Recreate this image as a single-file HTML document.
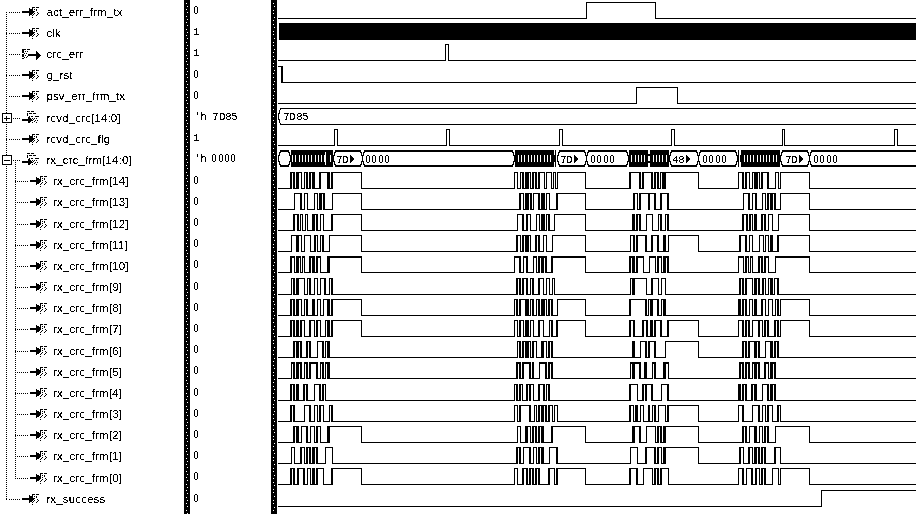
<!DOCTYPE html>
<html><head><meta charset="utf-8"><title>Waveform</title>
<style>
html,body{margin:0;padding:0;background:#fff;}
body{width:916px;height:514px;overflow:hidden;}
svg{display:block;}
.s{font-family:"Liberation Sans",sans-serif;font-size:11.5px;letter-spacing:0.15px;}
.m{font-family:"Liberation Mono",monospace;font-size:10px;}
</style></head><body>
<svg width="916" height="514" viewBox="0 0 916 514" shape-rendering="crispEdges">
<rect width="916" height="514" fill="#fff"/>
<path fill="#000" d="M6 12h1v1h-1zM6 14h1v1h-1zM6 16h1v1h-1zM6 18h1v1h-1zM6 20h1v1h-1zM6 22h1v1h-1zM6 24h1v1h-1zM6 26h1v1h-1zM6 28h1v1h-1zM6 30h1v1h-1zM6 32h1v1h-1zM6 34h1v1h-1zM6 36h1v1h-1zM6 38h1v1h-1zM6 40h1v1h-1zM6 42h1v1h-1zM6 44h1v1h-1zM6 46h1v1h-1zM6 48h1v1h-1zM6 50h1v1h-1zM6 52h1v1h-1zM6 54h1v1h-1zM6 56h1v1h-1zM6 58h1v1h-1zM6 60h1v1h-1zM6 62h1v1h-1zM6 64h1v1h-1zM6 66h1v1h-1zM6 68h1v1h-1zM6 70h1v1h-1zM6 72h1v1h-1zM6 74h1v1h-1zM6 76h1v1h-1zM6 78h1v1h-1zM6 80h1v1h-1zM6 82h1v1h-1zM6 84h1v1h-1zM6 86h1v1h-1zM6 88h1v1h-1zM6 90h1v1h-1zM6 92h1v1h-1zM6 94h1v1h-1zM6 96h1v1h-1zM6 98h1v1h-1zM6 100h1v1h-1zM6 102h1v1h-1zM6 104h1v1h-1zM6 106h1v1h-1zM6 108h1v1h-1zM6 110h1v1h-1zM6 112h1v1h-1zM6 114h1v1h-1zM6 116h1v1h-1zM6 118h1v1h-1zM6 120h1v1h-1zM6 122h1v1h-1zM6 124h1v1h-1zM6 126h1v1h-1zM6 128h1v1h-1zM6 130h1v1h-1zM6 132h1v1h-1zM6 134h1v1h-1zM6 136h1v1h-1zM6 138h1v1h-1zM6 140h1v1h-1zM6 142h1v1h-1zM6 144h1v1h-1zM6 146h1v1h-1zM6 148h1v1h-1zM6 150h1v1h-1zM6 152h1v1h-1zM6 154h1v1h-1zM6 156h1v1h-1zM6 158h1v1h-1zM6 160h1v1h-1zM6 162h1v1h-1zM6 164h1v1h-1zM6 166h1v1h-1zM6 168h1v1h-1zM6 170h1v1h-1zM6 172h1v1h-1zM6 174h1v1h-1zM6 176h1v1h-1zM6 178h1v1h-1zM6 180h1v1h-1zM6 182h1v1h-1zM6 184h1v1h-1zM6 186h1v1h-1zM6 188h1v1h-1zM6 190h1v1h-1zM6 192h1v1h-1zM6 194h1v1h-1zM6 196h1v1h-1zM6 198h1v1h-1zM6 200h1v1h-1zM6 202h1v1h-1zM6 204h1v1h-1zM6 206h1v1h-1zM6 208h1v1h-1zM6 210h1v1h-1zM6 212h1v1h-1zM6 214h1v1h-1zM6 216h1v1h-1zM6 218h1v1h-1zM6 220h1v1h-1zM6 222h1v1h-1zM6 224h1v1h-1zM6 226h1v1h-1zM6 228h1v1h-1zM6 230h1v1h-1zM6 232h1v1h-1zM6 234h1v1h-1zM6 236h1v1h-1zM6 238h1v1h-1zM6 240h1v1h-1zM6 242h1v1h-1zM6 244h1v1h-1zM6 246h1v1h-1zM6 248h1v1h-1zM6 250h1v1h-1zM6 252h1v1h-1zM6 254h1v1h-1zM6 256h1v1h-1zM6 258h1v1h-1zM6 260h1v1h-1zM6 262h1v1h-1zM6 264h1v1h-1zM6 266h1v1h-1zM6 268h1v1h-1zM6 270h1v1h-1zM6 272h1v1h-1zM6 274h1v1h-1zM6 276h1v1h-1zM6 278h1v1h-1zM6 280h1v1h-1zM6 282h1v1h-1zM6 284h1v1h-1zM6 286h1v1h-1zM6 288h1v1h-1zM6 290h1v1h-1zM6 292h1v1h-1zM6 294h1v1h-1zM6 296h1v1h-1zM6 298h1v1h-1zM6 300h1v1h-1zM6 302h1v1h-1zM6 304h1v1h-1zM6 306h1v1h-1zM6 308h1v1h-1zM6 310h1v1h-1zM6 312h1v1h-1zM6 314h1v1h-1zM6 316h1v1h-1zM6 318h1v1h-1zM6 320h1v1h-1zM6 322h1v1h-1zM6 324h1v1h-1zM6 326h1v1h-1zM6 328h1v1h-1zM6 330h1v1h-1zM6 332h1v1h-1zM6 334h1v1h-1zM6 336h1v1h-1zM6 338h1v1h-1zM6 340h1v1h-1zM6 342h1v1h-1zM6 344h1v1h-1zM6 346h1v1h-1zM6 348h1v1h-1zM6 350h1v1h-1zM6 352h1v1h-1zM6 354h1v1h-1zM6 356h1v1h-1zM6 358h1v1h-1zM6 360h1v1h-1zM6 362h1v1h-1zM6 364h1v1h-1zM6 366h1v1h-1zM6 368h1v1h-1zM6 370h1v1h-1zM6 372h1v1h-1zM6 374h1v1h-1zM6 376h1v1h-1zM6 378h1v1h-1zM6 380h1v1h-1zM6 382h1v1h-1zM6 384h1v1h-1zM6 386h1v1h-1zM6 388h1v1h-1zM6 390h1v1h-1zM6 392h1v1h-1zM6 394h1v1h-1zM6 396h1v1h-1zM6 398h1v1h-1zM6 400h1v1h-1zM6 402h1v1h-1zM6 404h1v1h-1zM6 406h1v1h-1zM6 408h1v1h-1zM6 410h1v1h-1zM6 412h1v1h-1zM6 414h1v1h-1zM6 416h1v1h-1zM6 418h1v1h-1zM6 420h1v1h-1zM6 422h1v1h-1zM6 424h1v1h-1zM6 426h1v1h-1zM6 428h1v1h-1zM6 430h1v1h-1zM6 432h1v1h-1zM6 434h1v1h-1zM6 436h1v1h-1zM6 438h1v1h-1zM6 440h1v1h-1zM6 442h1v1h-1zM6 444h1v1h-1zM6 446h1v1h-1zM6 448h1v1h-1zM6 450h1v1h-1zM6 452h1v1h-1zM6 454h1v1h-1zM6 456h1v1h-1zM6 458h1v1h-1zM6 460h1v1h-1zM6 462h1v1h-1zM6 464h1v1h-1zM6 466h1v1h-1zM6 468h1v1h-1zM6 470h1v1h-1zM6 472h1v1h-1zM6 474h1v1h-1zM6 476h1v1h-1zM6 478h1v1h-1zM6 480h1v1h-1zM6 482h1v1h-1zM6 484h1v1h-1zM6 486h1v1h-1zM6 488h1v1h-1zM6 490h1v1h-1zM6 492h1v1h-1zM6 494h1v1h-1zM6 496h1v1h-1zM6 498h1v1h-1zM6 12h1v1h-1zM9 12h1v1h-1zM11 12h1v1h-1zM13 12h1v1h-1zM15 12h1v1h-1zM17 12h1v1h-1zM19 12h1v1h-1zM6 33h1v1h-1zM9 33h1v1h-1zM11 33h1v1h-1zM13 33h1v1h-1zM15 33h1v1h-1zM17 33h1v1h-1zM19 33h1v1h-1zM6 54h1v1h-1zM9 54h1v1h-1zM11 54h1v1h-1zM13 54h1v1h-1zM15 54h1v1h-1zM17 54h1v1h-1zM19 54h1v1h-1zM6 75h1v1h-1zM9 75h1v1h-1zM11 75h1v1h-1zM13 75h1v1h-1zM15 75h1v1h-1zM17 75h1v1h-1zM19 75h1v1h-1zM6 96h1v1h-1zM9 96h1v1h-1zM11 96h1v1h-1zM13 96h1v1h-1zM15 96h1v1h-1zM17 96h1v1h-1zM19 96h1v1h-1zM13 118h1v1h-1zM15 118h1v1h-1zM17 118h1v1h-1zM19 118h1v1h-1zM6 139h1v1h-1zM9 139h1v1h-1zM11 139h1v1h-1zM13 139h1v1h-1zM15 139h1v1h-1zM17 139h1v1h-1zM19 139h1v1h-1zM13 160h1v1h-1zM15 160h1v1h-1zM17 160h1v1h-1zM19 160h1v1h-1zM6 499h1v1h-1zM9 499h1v1h-1zM11 499h1v1h-1zM13 499h1v1h-1zM15 499h1v1h-1zM17 499h1v1h-1zM19 499h1v1h-1zM15 162h1v1h-1zM15 164h1v1h-1zM15 166h1v1h-1zM15 168h1v1h-1zM15 170h1v1h-1zM15 172h1v1h-1zM15 174h1v1h-1zM15 176h1v1h-1zM15 178h1v1h-1zM15 180h1v1h-1zM15 182h1v1h-1zM15 184h1v1h-1zM15 186h1v1h-1zM15 188h1v1h-1zM15 190h1v1h-1zM15 192h1v1h-1zM15 194h1v1h-1zM15 196h1v1h-1zM15 198h1v1h-1zM15 200h1v1h-1zM15 202h1v1h-1zM15 204h1v1h-1zM15 206h1v1h-1zM15 208h1v1h-1zM15 210h1v1h-1zM15 212h1v1h-1zM15 214h1v1h-1zM15 216h1v1h-1zM15 218h1v1h-1zM15 220h1v1h-1zM15 222h1v1h-1zM15 224h1v1h-1zM15 226h1v1h-1zM15 228h1v1h-1zM15 230h1v1h-1zM15 232h1v1h-1zM15 234h1v1h-1zM15 236h1v1h-1zM15 238h1v1h-1zM15 240h1v1h-1zM15 242h1v1h-1zM15 244h1v1h-1zM15 246h1v1h-1zM15 248h1v1h-1zM15 250h1v1h-1zM15 252h1v1h-1zM15 254h1v1h-1zM15 256h1v1h-1zM15 258h1v1h-1zM15 260h1v1h-1zM15 262h1v1h-1zM15 264h1v1h-1zM15 266h1v1h-1zM15 268h1v1h-1zM15 270h1v1h-1zM15 272h1v1h-1zM15 274h1v1h-1zM15 276h1v1h-1zM15 278h1v1h-1zM15 280h1v1h-1zM15 282h1v1h-1zM15 284h1v1h-1zM15 286h1v1h-1zM15 288h1v1h-1zM15 290h1v1h-1zM15 292h1v1h-1zM15 294h1v1h-1zM15 296h1v1h-1zM15 298h1v1h-1zM15 300h1v1h-1zM15 302h1v1h-1zM15 304h1v1h-1zM15 306h1v1h-1zM15 308h1v1h-1zM15 310h1v1h-1zM15 312h1v1h-1zM15 314h1v1h-1zM15 316h1v1h-1zM15 318h1v1h-1zM15 320h1v1h-1zM15 322h1v1h-1zM15 324h1v1h-1zM15 326h1v1h-1zM15 328h1v1h-1zM15 330h1v1h-1zM15 332h1v1h-1zM15 334h1v1h-1zM15 336h1v1h-1zM15 338h1v1h-1zM15 340h1v1h-1zM15 342h1v1h-1zM15 344h1v1h-1zM15 346h1v1h-1zM15 348h1v1h-1zM15 350h1v1h-1zM15 352h1v1h-1zM15 354h1v1h-1zM15 356h1v1h-1zM15 358h1v1h-1zM15 360h1v1h-1zM15 362h1v1h-1zM15 364h1v1h-1zM15 366h1v1h-1zM15 368h1v1h-1zM15 370h1v1h-1zM15 372h1v1h-1zM15 374h1v1h-1zM15 376h1v1h-1zM15 378h1v1h-1zM15 380h1v1h-1zM15 382h1v1h-1zM15 384h1v1h-1zM15 386h1v1h-1zM15 388h1v1h-1zM15 390h1v1h-1zM15 392h1v1h-1zM15 394h1v1h-1zM15 396h1v1h-1zM15 398h1v1h-1zM15 400h1v1h-1zM15 402h1v1h-1zM15 404h1v1h-1zM15 406h1v1h-1zM15 408h1v1h-1zM15 410h1v1h-1zM15 412h1v1h-1zM15 414h1v1h-1zM15 416h1v1h-1zM15 418h1v1h-1zM15 420h1v1h-1zM15 422h1v1h-1zM15 424h1v1h-1zM15 426h1v1h-1zM15 428h1v1h-1zM15 430h1v1h-1zM15 432h1v1h-1zM15 434h1v1h-1zM15 436h1v1h-1zM15 438h1v1h-1zM15 440h1v1h-1zM15 442h1v1h-1zM15 444h1v1h-1zM15 446h1v1h-1zM15 448h1v1h-1zM15 450h1v1h-1zM15 452h1v1h-1zM15 454h1v1h-1zM15 456h1v1h-1zM15 458h1v1h-1zM15 460h1v1h-1zM15 462h1v1h-1zM15 464h1v1h-1zM15 466h1v1h-1zM15 468h1v1h-1zM15 470h1v1h-1zM15 472h1v1h-1zM15 474h1v1h-1zM15 476h1v1h-1zM15 478h1v1h-1zM15 181h1v1h-1zM17 181h1v1h-1zM19 181h1v1h-1zM21 181h1v1h-1zM23 181h1v1h-1zM25 181h1v1h-1zM27 181h1v1h-1zM15 202h1v1h-1zM17 202h1v1h-1zM19 202h1v1h-1zM21 202h1v1h-1zM23 202h1v1h-1zM25 202h1v1h-1zM27 202h1v1h-1zM15 224h1v1h-1zM17 224h1v1h-1zM19 224h1v1h-1zM21 224h1v1h-1zM23 224h1v1h-1zM25 224h1v1h-1zM27 224h1v1h-1zM15 245h1v1h-1zM17 245h1v1h-1zM19 245h1v1h-1zM21 245h1v1h-1zM23 245h1v1h-1zM25 245h1v1h-1zM27 245h1v1h-1zM15 266h1v1h-1zM17 266h1v1h-1zM19 266h1v1h-1zM21 266h1v1h-1zM23 266h1v1h-1zM25 266h1v1h-1zM27 266h1v1h-1zM15 287h1v1h-1zM17 287h1v1h-1zM19 287h1v1h-1zM21 287h1v1h-1zM23 287h1v1h-1zM25 287h1v1h-1zM27 287h1v1h-1zM15 308h1v1h-1zM17 308h1v1h-1zM19 308h1v1h-1zM21 308h1v1h-1zM23 308h1v1h-1zM25 308h1v1h-1zM27 308h1v1h-1zM15 329h1v1h-1zM17 329h1v1h-1zM19 329h1v1h-1zM21 329h1v1h-1zM23 329h1v1h-1zM25 329h1v1h-1zM27 329h1v1h-1zM15 351h1v1h-1zM17 351h1v1h-1zM19 351h1v1h-1zM21 351h1v1h-1zM23 351h1v1h-1zM25 351h1v1h-1zM27 351h1v1h-1zM15 372h1v1h-1zM17 372h1v1h-1zM19 372h1v1h-1zM21 372h1v1h-1zM23 372h1v1h-1zM25 372h1v1h-1zM27 372h1v1h-1zM15 393h1v1h-1zM17 393h1v1h-1zM19 393h1v1h-1zM21 393h1v1h-1zM23 393h1v1h-1zM25 393h1v1h-1zM27 393h1v1h-1zM15 414h1v1h-1zM17 414h1v1h-1zM19 414h1v1h-1zM21 414h1v1h-1zM23 414h1v1h-1zM25 414h1v1h-1zM27 414h1v1h-1zM15 435h1v1h-1zM17 435h1v1h-1zM19 435h1v1h-1zM21 435h1v1h-1zM23 435h1v1h-1zM25 435h1v1h-1zM27 435h1v1h-1zM15 456h1v1h-1zM17 456h1v1h-1zM19 456h1v1h-1zM21 456h1v1h-1zM23 456h1v1h-1zM25 456h1v1h-1zM27 456h1v1h-1zM15 478h1v1h-1zM17 478h1v1h-1zM19 478h1v1h-1zM21 478h1v1h-1zM23 478h1v1h-1zM25 478h1v1h-1zM27 478h1v1h-1zM184 0h6v514h-6zM271 0h6v514h-6zM278 188h13v1h-13zM290 172h2v17h-2zM291 172h3v1h-3zM293 172h2v17h-2zM294 188h3v1h-3zM296 172h3v17h-3zM298 172h4v1h-4zM301 172h1v17h-1zM301 188h4v1h-4zM304 172h1v17h-1zM304 172h3v1h-3zM306 172h2v17h-2zM307 188h3v1h-3zM309 172h2v17h-2zM310 172h3v1h-3zM312 172h3v17h-3zM314 188h6v1h-6zM319 172h2v17h-2zM320 172h8v1h-8zM327 172h3v17h-3zM329 188h3v1h-3zM331 172h2v17h-2zM332 172h30v1h-30zM361 172h1v17h-1zM361 188h154v1h-154zM514 172h1v17h-1zM514 172h4v1h-4zM517 172h1v17h-1zM517 188h4v1h-4zM520 172h1v17h-1zM520 172h3v1h-3zM522 172h2v17h-2zM523 188h3v1h-3zM525 172h4v17h-4zM528 172h3v1h-3zM530 172h1v17h-1zM530 188h3v1h-3zM532 172h2v17h-2zM533 172h3v1h-3zM535 172h2v17h-2zM536 188h3v1h-3zM538 172h2v17h-2zM539 172h6v1h-6zM544 172h1v17h-1zM544 188h3v1h-3zM546 172h1v17h-1zM546 172h6v1h-6zM551 172h1v17h-1zM551 188h3v1h-3zM553 172h1v17h-1zM553 172h3v1h-3zM555 172h1v17h-1zM555 188h3v1h-3zM557 172h1v17h-1zM557 172h29v1h-29zM585 172h1v17h-1zM585 188h45v1h-45zM629 172h2v17h-2zM630 172h10v1h-10zM639 172h2v17h-2zM640 188h3v1h-3zM642 172h2v17h-2zM643 172h9v1h-9zM651 172h2v17h-2zM652 188h3v1h-3zM654 172h2v17h-2zM655 172h3v1h-3zM657 172h2v17h-2zM658 188h3v1h-3zM660 172h1v17h-1zM660 172h3v1h-3zM662 172h4v17h-4zM665 172h34v1h-34zM698 172h1v17h-1zM698 188h41v1h-41zM738 172h1v17h-1zM738 172h5v1h-5zM742 172h2v17h-2zM743 188h3v1h-3zM745 172h2v17h-2zM746 172h4v1h-4zM749 172h1v17h-1zM749 188h4v1h-4zM752 172h1v17h-1zM752 172h3v1h-3zM754 172h4v17h-4zM757 172h3v1h-3zM759 172h1v17h-1zM759 188h3v1h-3zM761 172h2v17h-2zM762 172h6v1h-6zM767 172h2v17h-2zM768 188h8v1h-8zM775 172h1v17h-1zM775 172h4v1h-4zM778 172h1v17h-1zM778 188h3v1h-3zM780 172h1v17h-1zM780 172h30v1h-30zM809 172h1v17h-1zM809 188h107v1h-107zM278 209h17v1h-17zM294 193h1v17h-1zM294 193h7v1h-7zM300 193h2v17h-2zM301 209h4v1h-4zM304 193h1v17h-1zM304 193h4v1h-4zM307 193h1v17h-1zM307 209h8v1h-8zM314 193h1v17h-1zM314 193h4v1h-4zM317 193h1v17h-1zM317 209h3v1h-3zM319 193h3v17h-3zM321 193h3v1h-3zM323 193h2v17h-2zM324 209h9v1h-9zM332 193h1v17h-1zM332 193h30v1h-30zM361 193h1v17h-1zM361 209h159v1h-159zM519 193h2v17h-2zM520 193h4v1h-4zM523 193h1v17h-1zM523 209h3v1h-3zM525 193h4v17h-4zM528 193h3v1h-3zM530 193h2v17h-2zM531 209h3v1h-3zM533 193h1v17h-1zM533 193h6v1h-6zM538 193h2v17h-2zM539 209h3v1h-3zM541 193h4v17h-4zM544 209h3v1h-3zM546 193h1v17h-1zM546 193h4v1h-4zM549 193h1v17h-1zM549 209h8v1h-8zM556 193h2v17h-2zM557 193h29v1h-29zM585 193h1v17h-1zM585 209h49v1h-49zM633 193h2v17h-2zM634 193h4v1h-4zM637 193h1v17h-1zM637 209h3v1h-3zM639 193h2v17h-2zM640 193h9v1h-9zM648 193h2v17h-2zM649 193h6v1h-6zM654 193h2v17h-2zM655 209h6v1h-6zM660 193h2v17h-2zM661 193h7v1h-7zM667 193h2v17h-2zM668 209h76v1h-76zM743 193h1v17h-1zM743 193h6v1h-6zM748 193h2v17h-2zM749 209h4v1h-4zM752 193h1v17h-1zM752 193h4v1h-4zM755 193h2v17h-2zM756 209h7v1h-7zM762 193h1v17h-1zM762 193h4v1h-4zM765 193h1v17h-1zM765 209h3v1h-3zM767 193h2v17h-2zM768 193h3v1h-3zM770 193h3v17h-3zM772 193h3v1h-3zM774 193h2v17h-2zM775 209h6v1h-6zM780 193h1v17h-1zM780 193h30v1h-30zM809 193h1v17h-1zM809 209h107v1h-107zM278 230h16v1h-16zM293 214h2v17h-2zM294 214h4v1h-4zM297 214h2v17h-2zM298 230h3v1h-3zM300 214h1v17h-1zM300 214h3v1h-3zM302 214h1v17h-1zM302 230h4v1h-4zM305 214h1v17h-1zM305 214h3v1h-3zM307 214h1v17h-1zM307 230h6v1h-6zM312 214h3v17h-3zM314 214h3v1h-3zM316 214h2v17h-2zM317 230h4v1h-4zM320 214h1v17h-1zM320 214h4v1h-4zM323 214h1v17h-1zM323 230h9v1h-9zM331 214h2v17h-2zM332 214h30v1h-30zM361 214h1v17h-1zM361 230h157v1h-157zM517 214h1v17h-1zM517 214h6v1h-6zM522 214h2v17h-2zM523 230h4v1h-4zM526 214h2v17h-2zM527 214h4v1h-4zM530 214h1v17h-1zM530 230h7v1h-7zM536 214h1v17h-1zM536 214h4v1h-4zM539 214h1v17h-1zM539 230h3v1h-3zM541 214h4v17h-4zM544 230h3v1h-3zM546 214h1v17h-1zM546 214h3v1h-3zM548 214h2v17h-2zM549 230h6v1h-6zM554 214h1v17h-1zM554 214h32v1h-32zM585 214h1v17h-1zM585 230h48v1h-48zM632 214h3v17h-3zM634 230h3v1h-3zM636 214h2v17h-2zM637 214h3v1h-3zM639 214h2v17h-2zM640 230h7v1h-7zM646 214h1v17h-1zM646 214h7v1h-7zM652 214h1v17h-1zM652 230h7v1h-7zM658 214h1v17h-1zM658 214h3v1h-3zM660 214h2v17h-2zM661 230h5v1h-5zM665 214h1v17h-1zM665 214h3v1h-3zM667 214h2v17h-2zM668 230h75v1h-75zM742 214h2v17h-2zM743 214h4v1h-4zM746 214h2v17h-2zM747 230h3v1h-3zM749 214h2v17h-2zM750 214h3v1h-3zM752 214h1v17h-1zM752 230h3v1h-3zM754 214h3v17h-3zM756 230h6v1h-6zM761 214h2v17h-2zM762 214h3v1h-3zM764 214h2v17h-2zM765 230h4v1h-4zM768 214h1v17h-1zM768 214h5v1h-5zM772 214h1v17h-1zM772 230h7v1h-7zM778 214h1v17h-1zM778 214h32v1h-32zM809 214h1v17h-1zM809 230h107v1h-107zM278 251h14v1h-14zM291 235h1v17h-1zM291 235h6v1h-6zM296 235h3v17h-3zM298 235h4v1h-4zM301 235h1v17h-1zM301 251h4v1h-4zM304 235h1v17h-1zM304 235h7v1h-7zM310 235h1v17h-1zM310 251h5v1h-5zM314 235h2v17h-2zM315 235h3v1h-3zM317 235h1v17h-1zM317 251h4v1h-4zM320 235h1v17h-1zM320 235h3v1h-3zM322 235h2v17h-2zM323 251h7v1h-7zM329 235h1v17h-1zM329 235h33v1h-33zM361 235h1v17h-1zM361 251h156v1h-156zM516 235h2v17h-2zM517 235h4v1h-4zM520 235h1v17h-1zM520 251h3v1h-3zM522 235h2v17h-2zM523 235h3v1h-3zM525 235h4v17h-4zM528 235h3v1h-3zM530 235h1v17h-1zM530 251h6v1h-6zM535 235h2v17h-2zM536 235h3v1h-3zM538 235h2v17h-2zM539 251h5v1h-5zM543 235h1v17h-1zM543 235h4v1h-4zM546 235h1v17h-1zM546 251h7v1h-7zM552 235h1v17h-1zM552 235h34v1h-34zM585 235h1v17h-1zM585 251h46v1h-46zM630 235h1v17h-1zM630 235h4v1h-4zM633 235h2v17h-2zM634 251h3v1h-3zM636 235h2v17h-2zM637 235h9v1h-9zM645 235h2v17h-2zM646 251h6v1h-6zM651 235h2v17h-2zM652 235h6v1h-6zM657 235h2v17h-2zM658 251h6v1h-6zM663 235h3v17h-3zM665 251h4v1h-4zM668 235h1v17h-1zM668 235h31v1h-31zM698 235h1v17h-1zM698 251h42v1h-42zM739 235h2v17h-2zM740 235h6v1h-6zM745 235h2v17h-2zM746 251h4v1h-4zM749 235h1v17h-1zM749 235h4v1h-4zM752 235h1v17h-1zM752 251h8v1h-8zM759 235h1v17h-1zM759 235h5v1h-5zM763 235h1v17h-1zM763 251h3v1h-3zM765 235h1v17h-1zM765 235h4v1h-4zM768 235h1v17h-1zM768 251h3v1h-3zM770 235h3v17h-3zM772 251h6v1h-6zM777 235h2v17h-2zM778 235h32v1h-32zM809 235h1v17h-1zM809 251h107v1h-107zM278 272h13v1h-13zM290 256h2v17h-2zM291 256h4v2h-4zM294 256h1v17h-1zM294 272h3v1h-3zM296 256h3v17h-3zM298 256h3v2h-3zM300 256h1v17h-1zM300 272h3v1h-3zM302 256h1v17h-1zM302 256h3v2h-3zM304 256h1v17h-1zM304 272h6v1h-6zM309 256h2v17h-2zM310 256h3v2h-3zM312 256h3v17h-3zM314 272h3v1h-3zM316 256h2v17h-2zM317 256h4v2h-4zM320 256h1v17h-1zM320 272h8v1h-8zM327 256h3v17h-3zM329 256h33v2h-33zM361 256h1v17h-1zM361 272h154v1h-154zM514 256h1v17h-1zM514 256h6v2h-6zM519 256h2v17h-2zM520 272h4v1h-4zM523 256h1v17h-1zM523 256h4v2h-4zM526 256h2v17h-2zM527 272h7v1h-7zM533 256h1v17h-1zM533 256h4v2h-4zM536 256h1v17h-1zM536 272h3v1h-3zM538 256h2v17h-2zM539 256h3v2h-3zM541 256h3v17h-3zM543 256h3v2h-3zM545 256h2v17h-2zM546 272h6v1h-6zM551 256h2v17h-2zM552 256h34v2h-34zM585 256h1v17h-1zM585 272h45v1h-45zM629 256h2v17h-2zM630 256h3v2h-3zM632 256h3v17h-3zM634 272h3v1h-3zM636 256h2v17h-2zM637 256h7v2h-7zM643 256h1v17h-1zM643 272h7v1h-7zM649 256h1v17h-1zM649 256h7v2h-7zM655 256h1v17h-1zM655 272h3v1h-3zM657 256h2v17h-2zM658 256h4v2h-4zM661 256h1v17h-1zM661 272h3v1h-3zM663 256h3v17h-3zM665 256h3v2h-3zM667 256h2v17h-2zM668 272h71v1h-71zM738 256h1v17h-1zM738 256h6v2h-6zM743 256h1v17h-1zM743 272h3v1h-3zM745 256h2v17h-2zM746 256h3v2h-3zM748 256h1v17h-1zM748 272h3v1h-3zM750 256h1v17h-1zM750 256h3v2h-3zM752 256h1v17h-1zM752 272h7v1h-7zM758 256h2v17h-2zM759 256h3v2h-3zM761 256h2v17h-2zM762 272h3v1h-3zM764 256h2v17h-2zM765 256h4v2h-4zM768 256h1v17h-1zM768 272h8v1h-8zM775 256h1v17h-1zM775 256h35v2h-35zM809 256h1v17h-1zM809 272h107v1h-107zM278 294h14v1h-14zM291 278h1v17h-1zM291 278h3v1h-3zM293 278h2v17h-2zM294 294h3v1h-3zM296 278h3v17h-3zM298 278h7v1h-7zM304 278h1v17h-1zM304 294h4v1h-4zM307 278h1v17h-1zM307 278h3v1h-3zM309 278h2v17h-2zM310 294h5v1h-5zM314 278h1v17h-1zM314 278h4v1h-4zM317 278h1v17h-1zM317 294h4v1h-4zM320 278h1v17h-1zM320 278h5v1h-5zM324 278h2v17h-2zM325 294h5v1h-5zM329 278h1v17h-1zM329 278h3v1h-3zM331 278h2v17h-2zM332 294h185v1h-185zM516 278h2v17h-2zM517 278h3v1h-3zM519 278h2v17h-2zM520 294h3v1h-3zM522 278h2v17h-2zM523 278h4v1h-4zM526 278h2v17h-2zM527 294h4v1h-4zM530 278h1v17h-1zM530 278h3v1h-3zM532 278h2v17h-2zM533 294h6v1h-6zM538 278h2v17h-2zM539 278h5v1h-5zM543 278h1v17h-1zM543 294h4v1h-4zM546 278h1v17h-1zM546 278h4v1h-4zM549 278h1v17h-1zM549 294h4v1h-4zM552 278h1v17h-1zM552 278h3v1h-3zM554 278h1v17h-1zM554 294h77v1h-77zM630 278h1v17h-1zM630 278h3v1h-3zM632 278h3v17h-3zM634 278h13v1h-13zM646 278h1v17h-1zM646 294h6v1h-6zM651 278h2v17h-2zM652 278h7v1h-7zM658 278h1v17h-1zM658 294h4v1h-4zM661 278h1v17h-1zM661 278h5v1h-5zM665 278h1v17h-1zM665 294h75v1h-75zM739 278h2v17h-2zM740 278h3v1h-3zM742 278h2v17h-2zM743 294h3v1h-3zM745 278h2v17h-2zM746 278h7v1h-7zM752 278h1v17h-1zM752 294h3v1h-3zM754 278h3v17h-3zM756 278h3v1h-3zM758 278h2v17h-2zM759 294h4v1h-4zM762 278h2v17h-2zM763 278h3v1h-3zM765 278h1v17h-1zM765 294h4v1h-4zM768 278h1v17h-1zM768 278h3v1h-3zM770 278h3v17h-3zM772 294h3v1h-3zM774 278h1v17h-1zM774 278h4v1h-4zM777 278h2v17h-2zM778 294h138v1h-138zM278 315h13v1h-13zM290 299h2v17h-2zM291 299h3v1h-3zM293 299h2v17h-2zM294 315h3v1h-3zM296 299h3v17h-3zM298 299h4v1h-4zM301 299h1v17h-1zM301 315h4v1h-4zM304 299h1v17h-1zM304 299h3v1h-3zM306 299h2v17h-2zM307 315h6v1h-6zM312 299h3v17h-3zM314 315h4v1h-4zM317 299h1v17h-1zM317 299h4v1h-4zM320 299h1v17h-1zM320 315h4v1h-4zM323 299h1v17h-1zM323 299h5v1h-5zM327 299h3v17h-3zM329 315h3v1h-3zM331 299h2v17h-2zM332 299h30v1h-30zM361 299h1v17h-1zM361 315h154v1h-154zM514 299h1v17h-1zM514 299h3v1h-3zM516 299h2v17h-2zM517 315h3v1h-3zM519 299h2v17h-2zM520 299h6v1h-6zM525 299h4v17h-4zM528 315h3v1h-3zM530 299h1v17h-1zM530 299h3v1h-3zM532 299h2v17h-2zM533 315h4v1h-4zM536 299h1v17h-1zM536 299h3v1h-3zM538 299h2v17h-2zM539 315h3v1h-3zM541 299h4v17h-4zM544 299h3v1h-3zM546 299h1v17h-1zM546 315h3v1h-3zM548 299h2v17h-2zM549 299h3v1h-3zM551 299h2v17h-2zM552 315h6v1h-6zM557 299h1v17h-1zM557 299h29v1h-29zM585 299h1v17h-1zM585 315h45v1h-45zM629 299h2v17h-2zM630 299h16v1h-16zM645 299h2v17h-2zM646 315h3v1h-3zM648 299h1v17h-1zM648 299h3v1h-3zM650 299h3v17h-3zM652 299h6v1h-6zM657 299h2v17h-2zM658 315h4v1h-4zM661 299h1v17h-1zM661 299h3v1h-3zM663 299h3v17h-3zM665 315h74v1h-74zM738 299h1v17h-1zM738 299h2v1h-2zM739 299h2v17h-2zM740 315h3v1h-3zM742 299h2v17h-2zM743 299h3v1h-3zM745 299h2v17h-2zM746 315h4v1h-4zM749 299h1v17h-1zM749 299h4v1h-4zM752 299h1v17h-1zM752 315h3v1h-3zM754 299h3v17h-3zM756 315h6v1h-6zM761 299h2v17h-2zM762 299h4v1h-4zM765 299h1v17h-1zM765 315h4v1h-4zM768 299h1v17h-1zM768 299h5v1h-5zM772 299h1v17h-1zM772 315h4v1h-4zM775 299h1v17h-1zM775 299h3v1h-3zM777 299h2v17h-2zM778 315h3v1h-3zM780 299h1v17h-1zM780 299h30v1h-30zM809 299h1v17h-1zM809 315h107v1h-107zM278 336h13v1h-13zM290 320h2v17h-2zM291 320h3v1h-3zM293 320h2v17h-2zM294 336h3v1h-3zM296 320h3v17h-3zM298 336h3v1h-3zM300 320h2v17h-2zM301 320h4v1h-4zM304 320h1v17h-1zM304 336h6v1h-6zM309 320h2v17h-2zM310 320h5v1h-5zM314 320h1v17h-1zM314 336h3v1h-3zM316 320h2v17h-2zM317 320h4v1h-4zM320 320h1v17h-1zM320 336h6v1h-6zM325 320h1v17h-1zM325 320h3v1h-3zM327 320h3v17h-3zM329 336h3v1h-3zM331 320h2v17h-2zM332 320h30v1h-30zM361 320h1v17h-1zM361 336h154v1h-154zM514 320h1v17h-1zM514 320h4v1h-4zM517 320h1v17h-1zM517 336h3v1h-3zM519 320h2v17h-2zM520 320h4v1h-4zM523 320h1v17h-1zM523 336h3v1h-3zM525 320h4v17h-4zM528 336h3v1h-3zM530 320h1v17h-1zM530 320h4v1h-4zM533 320h1v17h-1zM533 336h6v1h-6zM538 320h2v17h-2zM539 320h5v1h-5zM543 320h1v17h-1zM543 336h7v1h-7zM549 320h1v17h-1zM549 320h3v1h-3zM551 320h2v17h-2zM552 336h5v1h-5zM556 320h2v17h-2zM557 320h29v1h-29zM585 320h1v17h-1zM585 336h45v1h-45zM629 320h2v17h-2zM630 320h4v1h-4zM633 320h2v17h-2zM634 336h9v1h-9zM642 320h2v17h-2zM643 320h4v1h-4zM646 320h2v17h-2zM647 336h4v1h-4zM650 320h3v17h-3zM652 336h3v1h-3zM654 320h2v17h-2zM655 320h6v1h-6zM660 320h2v17h-2zM661 336h7v1h-7zM667 320h2v17h-2zM668 320h31v1h-31zM698 320h1v17h-1zM698 336h41v1h-41zM738 320h1v17h-1zM738 320h5v1h-5zM742 320h2v17h-2zM743 336h3v1h-3zM745 320h2v17h-2zM746 320h3v1h-3zM748 320h2v17h-2zM749 336h4v1h-4zM752 320h1v17h-1zM752 320h7v1h-7zM758 320h2v17h-2zM759 320h4v1h-4zM762 320h1v17h-1zM762 336h3v1h-3zM764 320h2v17h-2zM765 320h3v1h-3zM767 320h2v17h-2zM768 336h7v1h-7zM774 320h2v17h-2zM775 320h3v1h-3zM777 320h2v17h-2zM778 336h3v1h-3zM780 320h1v17h-1zM780 320h30v1h-30zM809 320h1v17h-1zM809 336h107v1h-107zM278 357h16v1h-16zM293 341h2v17h-2zM294 341h3v1h-3zM296 341h3v17h-3zM298 341h3v1h-3zM300 341h2v17h-2zM301 357h6v1h-6zM306 341h2v17h-2zM307 341h3v1h-3zM309 341h2v17h-2zM310 357h8v1h-8zM317 341h1v17h-1zM317 341h6v1h-6zM322 341h2v17h-2zM323 357h3v1h-3zM325 341h1v17h-1zM325 341h3v1h-3zM327 341h3v17h-3zM329 357h189v1h-189zM517 341h1v17h-1zM517 341h3v1h-3zM519 341h2v17h-2zM520 357h3v1h-3zM522 341h2v17h-2zM523 341h3v1h-3zM525 341h4v17h-4zM528 341h3v1h-3zM530 341h1v17h-1zM530 357h3v1h-3zM532 341h2v17h-2zM533 341h4v1h-4zM536 341h1v17h-1zM536 357h6v1h-6zM541 341h3v17h-3zM543 341h4v1h-4zM546 341h1v17h-1zM546 357h3v1h-3zM548 341h2v17h-2zM549 341h3v1h-3zM551 341h2v17h-2zM552 357h81v1h-81zM632 341h3v17h-3zM634 357h7v1h-7zM640 341h1v17h-1zM640 341h6v1h-6zM645 341h2v17h-2zM646 357h3v1h-3zM648 341h2v17h-2zM649 341h6v1h-6zM654 341h2v17h-2zM655 357h11v1h-11zM665 341h1v17h-1zM665 341h34v1h-34zM698 341h1v17h-1zM698 357h45v1h-45zM742 341h2v17h-2zM743 341h3v1h-3zM745 341h2v17h-2zM746 357h3v1h-3zM748 341h2v17h-2zM749 341h6v1h-6zM754 341h3v17h-3zM756 341h3v1h-3zM758 341h2v17h-2zM759 357h7v1h-7zM765 341h1v17h-1zM765 341h6v1h-6zM770 341h3v17h-3zM772 357h3v1h-3zM774 341h2v17h-2zM775 341h3v1h-3zM777 341h2v17h-2zM778 357h138v1h-138zM278 378h14v1h-14zM291 362h1v17h-1zM291 362h3v2h-3zM293 362h2v17h-2zM294 378h3v1h-3zM296 362h3v17h-3zM298 362h3v2h-3zM300 362h2v17h-2zM301 378h4v1h-4zM304 362h1v17h-1zM304 362h3v2h-3zM306 362h2v17h-2zM307 378h3v1h-3zM309 362h2v17h-2zM310 362h7v2h-7zM316 362h2v17h-2zM317 378h4v1h-4zM320 362h1v17h-1zM320 362h3v2h-3zM322 362h2v17h-2zM323 378h3v1h-3zM325 362h1v17h-1zM325 362h3v2h-3zM327 362h3v17h-3zM329 378h188v1h-188zM516 362h2v17h-2zM517 362h3v2h-3zM519 362h2v17h-2zM520 378h3v1h-3zM522 362h2v17h-2zM523 362h7v2h-7zM529 362h2v17h-2zM530 378h3v1h-3zM532 362h2v17h-2zM533 378h7v1h-7zM539 362h1v17h-1zM539 362h7v2h-7zM545 362h2v17h-2zM546 378h3v1h-3zM548 362h2v17h-2zM549 362h3v2h-3zM551 362h2v17h-2zM552 378h79v1h-79zM630 362h1v17h-1zM630 362h3v2h-3zM632 362h3v17h-3zM634 362h6v2h-6zM639 362h2v17h-2zM640 378h5v1h-5zM644 362h1v17h-1zM644 362h2v2h-2zM645 362h2v17h-2zM646 378h7v1h-7zM652 362h1v17h-1zM652 362h3v2h-3zM654 362h2v17h-2zM655 378h9v1h-9zM663 362h3v17h-3zM665 362h4v2h-4zM668 362h1v17h-1zM668 378h72v1h-72zM739 362h2v17h-2zM740 362h3v2h-3zM742 362h2v17h-2zM743 378h3v1h-3zM745 362h2v17h-2zM746 362h3v2h-3zM748 362h2v17h-2zM749 378h4v1h-4zM752 362h1v17h-1zM752 362h3v2h-3zM754 362h3v17h-3zM756 362h3v2h-3zM758 362h2v17h-2zM759 378h6v1h-6zM764 362h2v17h-2zM765 362h4v2h-4zM768 362h1v17h-1zM768 378h3v1h-3zM770 362h3v17h-3zM772 362h3v2h-3zM774 362h2v17h-2zM775 378h141v1h-141zM278 400h13v1h-13zM290 384h2v17h-2zM291 384h3v1h-3zM293 384h2v17h-2zM294 400h3v1h-3zM296 384h3v17h-3zM298 400h6v1h-6zM303 384h2v17h-2zM304 384h3v1h-3zM306 384h2v17h-2zM307 400h8v1h-8zM314 384h1v17h-1zM314 384h6v1h-6zM319 384h2v17h-2zM320 400h3v1h-3zM322 384h2v17h-2zM323 384h3v1h-3zM325 384h1v17h-1zM325 400h190v1h-190zM514 384h1v17h-1zM514 384h3v1h-3zM516 384h2v17h-2zM517 400h3v1h-3zM519 384h2v17h-2zM520 384h3v1h-3zM522 384h1v17h-1zM522 400h5v1h-5zM526 384h2v17h-2zM527 384h3v1h-3zM529 384h2v17h-2zM530 384h4v1h-4zM533 384h1v17h-1zM533 400h6v1h-6zM538 384h2v17h-2zM539 384h5v1h-5zM543 384h2v17h-2zM544 400h3v1h-3zM546 384h1v17h-1zM546 384h3v1h-3zM548 384h2v17h-2zM549 400h81v1h-81zM629 384h2v17h-2zM630 384h8v1h-8zM637 384h1v17h-1zM637 400h6v1h-6zM642 384h2v17h-2zM643 384h3v1h-3zM645 384h2v17h-2zM646 384h6v1h-6zM651 384h2v17h-2zM652 400h10v1h-10zM661 384h1v17h-1zM661 384h7v1h-7zM667 384h2v17h-2zM668 400h71v1h-71zM738 384h1v17h-1zM738 384h2v1h-2zM739 384h2v17h-2zM740 400h3v1h-3zM742 384h2v17h-2zM743 384h3v1h-3zM745 384h2v17h-2zM746 400h6v1h-6zM751 384h2v17h-2zM752 384h3v1h-3zM754 384h3v17h-3zM756 400h7v1h-7zM762 384h1v17h-1zM762 384h6v1h-6zM767 384h2v17h-2zM768 400h3v1h-3zM770 384h3v17h-3zM772 384h3v1h-3zM774 384h2v17h-2zM775 400h141v1h-141zM278 421h13v1h-13zM290 405h2v17h-2zM291 405h3v1h-3zM293 405h2v17h-2zM294 421h11v1h-11zM304 405h1v17h-1zM304 405h6v1h-6zM309 405h2v17h-2zM310 421h5v1h-5zM314 405h1v17h-1zM314 405h4v1h-4zM317 405h1v17h-1zM317 421h3v1h-3zM319 405h2v17h-2zM320 405h4v1h-4zM323 405h1v17h-1zM323 421h7v1h-7zM329 405h1v17h-1zM329 405h3v1h-3zM331 405h2v17h-2zM332 421h183v1h-183zM514 405h1v17h-1zM514 405h4v1h-4zM517 405h1v17h-1zM517 421h3v1h-3zM519 405h2v17h-2zM520 405h10v1h-10zM529 405h2v17h-2zM530 421h5v1h-5zM534 405h1v17h-1zM534 405h3v1h-3zM536 405h1v17h-1zM536 421h3v1h-3zM538 405h2v17h-2zM539 405h3v1h-3zM541 405h3v17h-3zM543 405h3v1h-3zM545 405h2v17h-2zM546 421h3v1h-3zM548 405h2v17h-2zM549 405h4v1h-4zM552 405h1v17h-1zM552 421h3v1h-3zM554 405h1v17h-1zM554 405h4v1h-4zM557 405h1v17h-1zM557 421h73v1h-73zM629 405h2v17h-2zM630 405h4v1h-4zM633 405h1v17h-1zM633 421h3v1h-3zM635 405h1v17h-1zM635 405h2v1h-2zM636 405h2v17h-2zM637 421h4v1h-4zM640 405h1v17h-1zM640 405h4v1h-4zM643 405h1v17h-1zM643 421h6v1h-6zM648 405h2v17h-2zM649 421h4v1h-4zM652 405h1v17h-1zM652 405h3v1h-3zM654 405h2v17h-2zM655 421h4v1h-4zM658 405h1v17h-1zM658 405h8v1h-8zM665 405h1v17h-1zM665 421h3v1h-3zM667 405h2v17h-2zM668 405h31v1h-31zM698 405h1v17h-1zM698 421h41v1h-41zM738 405h1v17h-1zM738 405h5v1h-5zM742 405h2v17h-2zM743 421h10v1h-10zM752 405h1v17h-1zM752 405h7v1h-7zM758 405h2v17h-2zM759 421h4v1h-4zM762 405h1v17h-1zM762 405h4v1h-4zM765 405h1v17h-1zM765 421h3v1h-3zM767 405h2v17h-2zM768 405h5v1h-5zM772 405h1v17h-1zM772 421h6v1h-6zM777 405h2v17h-2zM778 405h3v1h-3zM780 405h1v17h-1zM780 421h136v1h-136zM278 442h16v1h-16zM293 426h2v17h-2zM294 426h3v1h-3zM296 426h3v17h-3zM298 442h4v1h-4zM301 426h1v17h-1zM301 426h6v1h-6zM306 426h2v17h-2zM307 442h4v1h-4zM310 426h1v17h-1zM310 426h5v1h-5zM314 426h1v17h-1zM314 442h3v1h-3zM316 426h2v17h-2zM317 426h4v1h-4zM320 426h1v17h-1zM320 442h8v1h-8zM327 426h3v17h-3zM329 426h33v1h-33zM361 426h1v17h-1zM361 442h157v1h-157zM517 426h1v17h-1zM517 426h4v1h-4zM520 426h1v17h-1zM520 442h6v1h-6zM525 426h3v17h-3zM527 426h4v1h-4zM530 426h1v17h-1zM530 442h3v1h-3zM532 426h2v17h-2zM533 426h3v1h-3zM535 426h2v17h-2zM536 442h3v1h-3zM538 426h2v17h-2zM539 426h3v1h-3zM541 426h3v17h-3zM543 442h9v1h-9zM551 426h2v17h-2zM552 426h34v1h-34zM585 426h1v17h-1zM585 442h48v1h-48zM632 426h3v17h-3zM634 426h6v1h-6zM639 426h2v17h-2zM640 442h7v1h-7zM646 426h1v17h-1zM646 426h10v1h-10zM655 426h1v17h-1zM655 442h3v1h-3zM657 426h2v17h-2zM658 426h3v1h-3zM660 426h2v17h-2zM661 442h3v1h-3zM663 426h3v17h-3zM665 426h34v1h-34zM698 426h1v17h-1zM698 442h45v1h-45zM742 426h2v17h-2zM743 426h3v1h-3zM745 426h2v17h-2zM746 442h4v1h-4zM749 426h1v17h-1zM749 426h6v1h-6zM754 426h3v17h-3zM756 442h4v1h-4zM759 426h1v17h-1zM759 426h4v1h-4zM762 426h1v17h-1zM762 442h3v1h-3zM764 426h2v17h-2zM765 426h3v1h-3zM767 426h2v17h-2zM768 442h8v1h-8zM775 426h1v17h-1zM775 426h35v1h-35zM809 426h1v17h-1zM809 442h107v1h-107zM278 463h14v1h-14zM291 447h1v17h-1zM291 447h4v1h-4zM294 447h1v17h-1zM294 463h7v1h-7zM300 447h2v17h-2zM301 447h4v1h-4zM304 447h1v17h-1zM304 463h3v1h-3zM306 447h2v17h-2zM307 447h3v1h-3zM309 447h2v17h-2zM310 463h3v1h-3zM312 447h3v17h-3zM314 447h3v1h-3zM316 447h2v17h-2zM317 463h9v1h-9zM325 447h1v17h-1zM325 447h8v1h-8zM332 447h1v17h-1zM332 463h185v1h-185zM516 447h2v17h-2zM517 447h3v1h-3zM519 447h2v17h-2zM520 463h4v1h-4zM523 447h1v17h-1zM523 447h7v1h-7zM529 447h2v17h-2zM530 463h4v1h-4zM533 447h1v17h-1zM533 447h4v1h-4zM536 447h1v17h-1zM536 463h3v1h-3zM538 447h2v17h-2zM539 447h3v1h-3zM541 447h3v17h-3zM543 463h7v1h-7zM549 447h1v17h-1zM549 447h8v1h-8zM556 447h2v17h-2zM557 463h74v1h-74zM630 447h1v17h-1zM630 447h8v1h-8zM637 447h1v17h-1zM637 463h9v1h-9zM645 447h2v17h-2zM646 447h9v1h-9zM654 447h2v17h-2zM655 463h3v1h-3zM657 447h2v17h-2zM658 447h4v1h-4zM661 447h1v17h-1zM661 463h3v1h-3zM663 447h3v17h-3zM665 447h34v1h-34zM698 447h1v17h-1zM698 463h42v1h-42zM739 447h2v17h-2zM740 447h4v1h-4zM743 447h1v17h-1zM743 463h6v1h-6zM748 447h2v17h-2zM749 447h4v1h-4zM752 447h1v17h-1zM752 463h3v1h-3zM754 447h3v17h-3zM756 447h3v1h-3zM758 447h2v17h-2zM759 463h3v1h-3zM761 447h2v17h-2zM762 447h3v1h-3zM764 447h2v17h-2zM765 463h10v1h-10zM774 447h2v17h-2zM775 447h6v1h-6zM780 447h1v17h-1zM780 463h136v1h-136zM278 484h13v1h-13zM290 468h2v17h-2zM291 468h3v1h-3zM293 468h2v17h-2zM294 484h4v1h-4zM297 468h2v17h-2zM298 468h6v1h-6zM303 468h2v17h-2zM304 484h4v1h-4zM307 468h1v17h-1zM307 468h4v1h-4zM310 468h1v17h-1zM310 484h3v1h-3zM312 468h3v17h-3zM314 484h3v1h-3zM316 468h2v17h-2zM317 468h7v1h-7zM323 468h1v17h-1zM323 484h9v1h-9zM331 468h2v17h-2zM332 468h30v1h-30zM361 468h1v17h-1zM361 484h154v1h-154zM514 468h1v17h-1zM514 468h4v1h-4zM517 468h1v17h-1zM517 484h6v1h-6zM522 468h2v17h-2zM523 468h4v1h-4zM526 468h2v17h-2zM527 484h3v1h-3zM529 468h2v17h-2zM530 468h3v1h-3zM532 468h2v17h-2zM533 484h3v1h-3zM535 468h2v17h-2zM536 468h3v1h-3zM538 468h2v17h-2zM539 484h10v1h-10zM548 468h2v17h-2zM549 468h6v1h-6zM554 468h1v17h-1zM554 484h3v1h-3zM556 468h2v17h-2zM557 468h29v1h-29zM585 468h1v17h-1zM585 484h45v1h-45zM629 468h2v17h-2zM630 468h7v1h-7zM636 468h2v17h-2zM637 484h7v1h-7zM643 468h1v17h-1zM643 468h10v1h-10zM652 468h1v17h-1zM652 484h3v1h-3zM654 468h2v17h-2zM655 468h3v1h-3zM657 468h2v17h-2zM658 484h3v1h-3zM660 468h2v17h-2zM661 468h8v1h-8zM668 468h1v17h-1zM668 484h71v1h-71zM738 468h1v17h-1zM738 468h5v1h-5zM742 468h2v17h-2zM743 484h4v1h-4zM746 468h1v17h-1zM746 468h6v1h-6zM751 468h2v17h-2zM752 484h4v1h-4zM755 468h2v17h-2zM756 468h4v1h-4zM759 468h1v17h-1zM759 484h3v1h-3zM761 468h2v17h-2zM762 468h3v1h-3zM764 468h2v17h-2zM765 484h8v1h-8zM772 468h1v17h-1zM772 468h7v1h-7zM778 468h1v17h-1zM778 484h3v1h-3zM780 468h1v17h-1zM780 468h30v1h-30zM809 468h1v17h-1zM809 484h107v1h-107zM278 18h309v1h-309zM586 2h70v1h-70zM586 2h1v17h-1zM655 18h261v1h-261zM655 2h1v17h-1zM279 23h637v17h-637zM278 60h168v1h-168zM445 44h4v1h-4zM445 44h1v17h-1zM448 60h468v1h-468zM448 44h1v17h-1zM278 66h5v1h-5zM282 82h634v1h-634zM282 66h1v17h-1zM282 66h1v17h-1zM281 66h1v17h-1zM278 103h359v1h-359zM636 87h42v1h-42zM636 87h1v17h-1zM677 103h239v1h-239zM677 87h1v17h-1zM278 145h57v1h-57zM334 129h4v1h-4zM334 129h1v17h-1zM337 145h110v1h-110zM337 129h1v17h-1zM446 129h4v1h-4zM446 129h1v17h-1zM449 145h111v1h-111zM449 129h1v17h-1zM559 129h4v1h-4zM559 129h1v17h-1zM562 145h110v1h-110zM562 129h1v17h-1zM671 129h4v1h-4zM671 129h1v17h-1zM674 145h109v1h-109zM674 129h1v17h-1zM782 129h3v1h-3zM782 129h1v17h-1zM784 145h111v1h-111zM784 129h1v17h-1zM894 129h4v1h-4zM894 129h1v17h-1zM897 145h19v1h-19zM897 129h1v17h-1zM278 506h544v1h-544zM821 490h95v1h-95zM821 490h1v17h-1zM280 108h636v1h-636zM280 124h636v1h-636zM278 113h1v7h-1zM279 110h1v4h-1zM279 119h1v4h-1zM280 109h1v1h-1zM280 123h1v1h-1zM280 150h9v2h-9zM280 165h9v2h-9zM278 155h1v7h-1zM279 152h1v4h-1zM279 161h1v4h-1zM280 151h1v2h-1zM280 164h1v2h-1zM290 155h1v7h-1zM289 152h1v4h-1zM289 161h1v4h-1zM288 151h1v2h-1zM288 164h1v2h-1zM291 150h42v17h-42zM290 155h1v7h-1zM333 155h1v7h-1zM335 150h26v2h-26zM335 165h26v2h-26zM333 155h1v7h-1zM334 152h1v4h-1zM334 161h1v4h-1zM335 151h1v2h-1zM335 164h1v2h-1zM362 155h1v7h-1zM361 152h1v4h-1zM361 161h1v4h-1zM360 151h1v2h-1zM360 164h1v2h-1zM350 155h1v8h-1zM351 156h1v6h-1zM352 157h1v4h-1zM353 158h1v2h-1zM364 150h149v2h-149zM364 165h149v2h-149zM362 155h1v7h-1zM363 152h1v4h-1zM363 161h1v4h-1zM364 151h1v2h-1zM364 164h1v2h-1zM514 155h1v7h-1zM513 152h1v4h-1zM513 161h1v4h-1zM512 151h1v2h-1zM512 164h1v2h-1zM515 150h39v17h-39zM514 155h1v7h-1zM554 155h1v7h-1zM555 150h1v17h-1zM559 150h26v2h-26zM559 165h26v2h-26zM557 155h1v7h-1zM558 152h1v4h-1zM558 161h1v4h-1zM559 151h1v2h-1zM559 164h1v2h-1zM586 155h1v7h-1zM585 152h1v4h-1zM585 161h1v4h-1zM584 151h1v2h-1zM584 164h1v2h-1zM574 155h1v8h-1zM575 156h1v6h-1zM576 157h1v4h-1zM577 158h1v2h-1zM588 150h39v2h-39zM588 165h39v2h-39zM586 155h1v7h-1zM587 152h1v4h-1zM587 161h1v4h-1zM588 151h1v2h-1zM588 164h1v2h-1zM628 155h1v7h-1zM627 152h1v4h-1zM627 161h1v4h-1zM626 151h1v2h-1zM626 164h1v2h-1zM629 150h40v17h-40zM628 155h1v7h-1zM669 155h1v7h-1zM671 150h26v2h-26zM671 165h26v2h-26zM669 155h1v7h-1zM670 152h1v4h-1zM670 161h1v4h-1zM671 151h1v2h-1zM671 164h1v2h-1zM698 155h1v7h-1zM697 152h1v4h-1zM697 161h1v4h-1zM696 151h1v2h-1zM696 164h1v2h-1zM686 155h1v8h-1zM687 156h1v6h-1zM688 157h1v4h-1zM689 158h1v2h-1zM700 150h36v2h-36zM700 165h36v2h-36zM698 155h1v7h-1zM699 152h1v4h-1zM699 161h1v4h-1zM700 151h1v2h-1zM700 164h1v2h-1zM737 155h1v7h-1zM736 152h1v4h-1zM736 161h1v4h-1zM735 151h1v2h-1zM735 164h1v2h-1zM738 150h1v17h-1zM741 150h39v17h-39zM740 155h1v7h-1zM780 155h1v7h-1zM782 150h26v2h-26zM782 165h26v2h-26zM780 155h1v7h-1zM781 152h1v4h-1zM781 161h1v4h-1zM782 151h1v2h-1zM782 164h1v2h-1zM809 155h1v7h-1zM808 152h1v4h-1zM808 161h1v4h-1zM807 151h1v2h-1zM807 164h1v2h-1zM799 155h1v8h-1zM800 156h1v6h-1zM801 157h1v4h-1zM802 158h1v2h-1zM811 150h105v2h-105zM811 165h105v2h-105zM809 155h1v7h-1zM810 152h1v4h-1zM810 161h1v4h-1zM811 151h1v2h-1zM811 164h1v2h-1z"/>
<path fill="#fff" d="M2 113h10v10h-10zM2 155h10v10h-10zM292 155h1v7h-1zM295 155h1v7h-1zM299 155h1v7h-1zM302 155h1v7h-1zM305 155h1v7h-1zM308 155h1v7h-1zM311 155h1v7h-1zM315 155h1v7h-1zM318 155h1v7h-1zM321 155h1v7h-1zM324 155h1v7h-1zM330 155h1v7h-1zM325 152h1v13h-1zM518 155h1v7h-1zM521 155h1v7h-1zM524 155h1v7h-1zM528 155h1v7h-1zM531 155h1v7h-1zM534 155h1v7h-1zM537 155h1v7h-1zM540 155h1v7h-1zM544 155h1v7h-1zM547 155h1v7h-1zM550 155h1v7h-1zM631 155h1v7h-1zM635 155h1v7h-1zM638 155h1v7h-1zM641 155h1v7h-1zM644 155h1v7h-1zM653 155h1v7h-1zM656 155h1v7h-1zM659 155h1v7h-1zM662 155h1v7h-1zM666 155h1v7h-1zM648 150h2v17h-2zM744 155h1v7h-1zM747 155h1v7h-1zM750 155h1v7h-1zM753 155h1v7h-1zM757 155h1v7h-1zM760 155h1v7h-1zM763 155h1v7h-1zM766 155h1v7h-1zM769 155h1v7h-1zM773 155h1v7h-1zM776 155h1v7h-1zM186 3h1v1h-1zM187 6h1v1h-1zM186 9h1v1h-1zM187 12h1v1h-1zM186 16h1v1h-1zM187 19h1v1h-1zM186 22h1v1h-1zM187 25h1v1h-1zM186 29h1v1h-1zM187 32h1v1h-1zM186 35h1v1h-1zM187 38h1v1h-1zM186 42h1v1h-1zM187 45h1v1h-1zM186 48h1v1h-1zM187 51h1v1h-1zM186 55h1v1h-1zM187 58h1v1h-1zM186 61h1v1h-1zM187 64h1v1h-1zM186 68h1v1h-1zM187 71h1v1h-1zM186 74h1v1h-1zM187 77h1v1h-1zM186 81h1v1h-1zM187 84h1v1h-1zM186 87h1v1h-1zM187 90h1v1h-1zM186 94h1v1h-1zM187 97h1v1h-1zM186 100h1v1h-1zM187 103h1v1h-1zM186 107h1v1h-1zM187 110h1v1h-1zM186 113h1v1h-1zM187 116h1v1h-1zM186 120h1v1h-1zM187 123h1v1h-1zM186 126h1v1h-1zM187 129h1v1h-1zM186 133h1v1h-1zM187 136h1v1h-1zM186 139h1v1h-1zM187 142h1v1h-1zM186 146h1v1h-1zM187 149h1v1h-1zM186 152h1v1h-1zM187 155h1v1h-1zM186 159h1v1h-1zM187 162h1v1h-1zM186 165h1v1h-1zM187 168h1v1h-1zM186 172h1v1h-1zM187 175h1v1h-1zM186 178h1v1h-1zM187 181h1v1h-1zM186 185h1v1h-1zM187 188h1v1h-1zM186 191h1v1h-1zM187 194h1v1h-1zM186 198h1v1h-1zM187 201h1v1h-1zM186 204h1v1h-1zM187 207h1v1h-1zM186 211h1v1h-1zM187 214h1v1h-1zM186 217h1v1h-1zM187 220h1v1h-1zM186 224h1v1h-1zM187 227h1v1h-1zM186 230h1v1h-1zM187 233h1v1h-1zM186 237h1v1h-1zM187 240h1v1h-1zM186 243h1v1h-1zM187 246h1v1h-1zM186 250h1v1h-1zM187 253h1v1h-1zM186 256h1v1h-1zM187 259h1v1h-1zM186 263h1v1h-1zM187 266h1v1h-1zM186 269h1v1h-1zM187 272h1v1h-1zM186 276h1v1h-1zM187 279h1v1h-1zM186 282h1v1h-1zM187 285h1v1h-1zM186 289h1v1h-1zM187 292h1v1h-1zM186 295h1v1h-1zM187 298h1v1h-1zM186 302h1v1h-1zM187 305h1v1h-1zM186 308h1v1h-1zM187 311h1v1h-1zM186 315h1v1h-1zM187 318h1v1h-1zM186 321h1v1h-1zM187 324h1v1h-1zM186 328h1v1h-1zM187 331h1v1h-1zM186 334h1v1h-1zM187 337h1v1h-1zM186 341h1v1h-1zM187 344h1v1h-1zM186 347h1v1h-1zM187 350h1v1h-1zM186 354h1v1h-1zM187 357h1v1h-1zM186 360h1v1h-1zM187 363h1v1h-1zM186 367h1v1h-1zM187 370h1v1h-1zM186 373h1v1h-1zM187 376h1v1h-1zM186 380h1v1h-1zM187 383h1v1h-1zM186 386h1v1h-1zM187 389h1v1h-1zM186 393h1v1h-1zM187 396h1v1h-1zM186 399h1v1h-1zM187 402h1v1h-1zM186 406h1v1h-1zM187 409h1v1h-1zM186 412h1v1h-1zM187 415h1v1h-1zM186 419h1v1h-1zM187 422h1v1h-1zM186 425h1v1h-1zM187 428h1v1h-1zM186 432h1v1h-1zM187 435h1v1h-1zM186 438h1v1h-1zM187 441h1v1h-1zM186 445h1v1h-1zM187 448h1v1h-1zM186 451h1v1h-1zM187 454h1v1h-1zM186 458h1v1h-1zM187 461h1v1h-1zM186 464h1v1h-1zM187 467h1v1h-1zM186 471h1v1h-1zM187 474h1v1h-1zM186 477h1v1h-1zM187 480h1v1h-1zM186 484h1v1h-1zM187 487h1v1h-1zM186 490h1v1h-1zM187 493h1v1h-1zM186 497h1v1h-1zM187 500h1v1h-1zM186 503h1v1h-1zM187 506h1v1h-1zM186 510h1v1h-1zM187 513h1v1h-1zM273 3h1v1h-1zM274 6h1v1h-1zM273 10h1v1h-1zM273 13h1v1h-1zM274 17h1v1h-1zM273 20h1v1h-1zM273 24h1v1h-1zM274 27h1v1h-1zM273 31h1v1h-1zM273 34h1v1h-1zM274 38h1v1h-1zM273 42h1v1h-1zM273 45h1v1h-1zM274 49h1v1h-1zM273 52h1v1h-1zM273 56h1v1h-1zM274 59h1v1h-1zM273 63h1v1h-1zM273 66h1v1h-1zM274 70h1v1h-1zM273 73h1v1h-1zM273 77h1v1h-1zM274 81h1v1h-1zM273 84h1v1h-1zM273 88h1v1h-1zM274 91h1v1h-1zM273 95h1v1h-1zM273 98h1v1h-1zM274 102h1v1h-1zM273 105h1v1h-1zM273 109h1v1h-1zM274 113h1v1h-1zM273 116h1v1h-1zM273 120h1v1h-1zM274 123h1v1h-1zM273 127h1v1h-1zM273 130h1v1h-1zM274 134h1v1h-1zM273 137h1v1h-1zM273 141h1v1h-1zM274 144h1v1h-1zM273 148h1v1h-1zM273 152h1v1h-1zM274 155h1v1h-1zM273 159h1v1h-1zM273 162h1v1h-1zM274 166h1v1h-1zM273 169h1v1h-1zM273 173h1v1h-1zM274 176h1v1h-1zM273 180h1v1h-1zM273 184h1v1h-1zM274 187h1v1h-1zM273 191h1v1h-1zM273 194h1v1h-1zM274 198h1v1h-1zM273 201h1v1h-1zM273 205h1v1h-1zM274 208h1v1h-1zM273 212h1v1h-1zM273 216h1v1h-1zM274 219h1v1h-1zM273 223h1v1h-1zM273 226h1v1h-1zM274 230h1v1h-1zM273 233h1v1h-1zM273 237h1v1h-1zM274 240h1v1h-1zM273 244h1v1h-1zM273 247h1v1h-1zM274 251h1v1h-1zM273 255h1v1h-1zM273 258h1v1h-1zM274 262h1v1h-1zM273 265h1v1h-1zM273 269h1v1h-1zM274 272h1v1h-1zM273 276h1v1h-1zM273 279h1v1h-1zM274 283h1v1h-1zM273 287h1v1h-1zM273 290h1v1h-1zM274 294h1v1h-1zM273 297h1v1h-1zM273 301h1v1h-1zM274 304h1v1h-1zM273 308h1v1h-1zM273 311h1v1h-1zM274 315h1v1h-1zM273 318h1v1h-1zM273 322h1v1h-1zM274 326h1v1h-1zM273 329h1v1h-1zM273 333h1v1h-1zM274 336h1v1h-1zM273 340h1v1h-1zM273 343h1v1h-1zM274 347h1v1h-1zM273 350h1v1h-1zM273 354h1v1h-1zM274 358h1v1h-1zM273 361h1v1h-1zM273 365h1v1h-1zM274 368h1v1h-1zM273 372h1v1h-1zM273 375h1v1h-1zM274 379h1v1h-1zM273 382h1v1h-1zM273 386h1v1h-1zM274 389h1v1h-1zM273 393h1v1h-1zM273 397h1v1h-1zM274 400h1v1h-1zM273 404h1v1h-1zM273 407h1v1h-1zM274 411h1v1h-1zM273 414h1v1h-1zM273 418h1v1h-1zM274 421h1v1h-1zM273 425h1v1h-1zM273 429h1v1h-1zM274 432h1v1h-1zM273 436h1v1h-1zM273 439h1v1h-1zM274 443h1v1h-1zM273 446h1v1h-1zM273 450h1v1h-1zM274 453h1v1h-1zM273 457h1v1h-1zM273 460h1v1h-1zM274 464h1v1h-1zM273 468h1v1h-1zM273 471h1v1h-1zM274 475h1v1h-1zM273 478h1v1h-1zM273 482h1v1h-1zM274 485h1v1h-1zM273 489h1v1h-1zM273 492h1v1h-1zM274 496h1v1h-1zM273 500h1v1h-1zM273 503h1v1h-1zM274 507h1v1h-1zM273 510h1v1h-1z"/>
<path fill="#000" d="M2 113h10v1h-10zM2 122h10v1h-10zM2 113h1v10h-1zM11 113h1v10h-1zM4 118h6v1h-6zM6 116h1v5h-1z"/>
<path fill="#000" d="M2 155h10v1h-10zM2 164h10v1h-10zM2 155h1v10h-1zM11 155h1v10h-1zM4 160h6v1h-6z"/>
<path fill="#000" d="M22 11h8v2h-8zM29 8h1v8h-1zM30 9h1v6h-1zM31 9h1v6h-1zM32 10h1v4h-1zM33 11h1v2h-1zM32 7h3v1h-3zM36 7h3v1h-3zM32 7h1v4h-1zM34 9h1v1h-1zM34 11h1v1h-1zM34 13h1v1h-1zM36 9h1v2h-1zM37 12h1v1h-1zM38 13h1v1h-1zM37 14h1v1h-1zM36 15h1v1h-1zM33 14h1v1h-1zM32 15h1v1h-1zM32 17h1v1h-1zM22 32h8v2h-8zM29 29h1v8h-1zM30 30h1v6h-1zM31 30h1v6h-1zM32 31h1v4h-1zM33 32h1v2h-1zM32 28h3v1h-3zM36 28h3v1h-3zM32 28h1v4h-1zM34 30h1v1h-1zM34 32h1v1h-1zM34 34h1v1h-1zM36 30h1v2h-1zM37 33h1v1h-1zM38 34h1v1h-1zM37 35h1v1h-1zM36 36h1v1h-1zM33 35h1v1h-1zM32 36h1v1h-1zM32 38h1v1h-1zM22 74h8v2h-8zM29 71h1v8h-1zM30 72h1v6h-1zM31 72h1v6h-1zM32 73h1v4h-1zM33 74h1v2h-1zM32 70h3v1h-3zM36 70h3v1h-3zM32 70h1v4h-1zM34 72h1v1h-1zM34 74h1v1h-1zM34 76h1v1h-1zM36 72h1v2h-1zM37 75h1v1h-1zM38 76h1v1h-1zM37 77h1v1h-1zM36 78h1v1h-1zM33 77h1v1h-1zM32 78h1v1h-1zM32 80h1v1h-1zM22 95h8v2h-8zM29 92h1v8h-1zM30 93h1v6h-1zM31 93h1v6h-1zM32 94h1v4h-1zM33 95h1v2h-1zM32 91h3v1h-3zM36 91h3v1h-3zM32 91h1v4h-1zM34 93h1v1h-1zM34 95h1v1h-1zM34 97h1v1h-1zM36 93h1v2h-1zM37 96h1v1h-1zM38 97h1v1h-1zM37 98h1v1h-1zM36 99h1v1h-1zM33 98h1v1h-1zM32 99h1v1h-1zM32 101h1v1h-1zM22 138h8v2h-8zM29 135h1v8h-1zM30 136h1v6h-1zM31 136h1v6h-1zM32 137h1v4h-1zM33 138h1v2h-1zM32 134h3v1h-3zM36 134h3v1h-3zM32 134h1v4h-1zM34 136h1v1h-1zM34 138h1v1h-1zM34 140h1v1h-1zM36 136h1v2h-1zM37 139h1v1h-1zM38 140h1v1h-1zM37 141h1v1h-1zM36 142h1v1h-1zM33 141h1v1h-1zM32 142h1v1h-1zM32 144h1v1h-1zM22 498h8v2h-8zM29 495h1v8h-1zM30 496h1v6h-1zM31 496h1v6h-1zM32 497h1v4h-1zM33 498h1v2h-1zM32 494h3v1h-3zM36 494h3v1h-3zM32 494h1v4h-1zM34 496h1v1h-1zM34 498h1v1h-1zM34 500h1v1h-1zM36 496h1v2h-1zM37 499h1v1h-1zM38 500h1v1h-1zM37 501h1v1h-1zM36 502h1v1h-1zM33 501h1v1h-1zM32 502h1v1h-1zM32 504h1v1h-1zM22 49h4v1h-4zM27 49h3v1h-3zM22 49h2v4h-2zM22 54h2v3h-2zM22 58h2v1h-2zM25 51h1v1h-1zM27 51h1v1h-1zM24 53h1v1h-1zM26 53h1v1h-1zM25 55h1v1h-1zM27 56h1v1h-1zM26 57h1v1h-1zM24 57h1v1h-1zM28 54h8v2h-8zM36 51h1v9h-1zM37 52h1v7h-1zM38 53h1v5h-1zM39 54h1v3h-1zM40 55h1v1h-1zM22 119h6v2h-6zM28 117h1v6h-1zM29 117h1v6h-1zM30 118h1v4h-1zM31 119h1v2h-1zM27 111h3v1h-3zM31 111h3v1h-3zM27 113h1v3h-1zM29 113h3v1h-3zM33 113h3v1h-3zM29 116h1v1h-1zM31 116h2v1h-2zM35 116h4v1h-4zM32 118h1v1h-1zM34 118h1v1h-1zM36 118h1v1h-1zM33 119h1v1h-1zM35 120h1v1h-1zM37 120h1v1h-1zM32 120h1v1h-1zM34 121h1v1h-1zM36 122h1v1h-1zM32 122h1v1h-1zM22 161h6v2h-6zM28 159h1v6h-1zM29 159h1v6h-1zM30 160h1v4h-1zM31 161h1v2h-1zM27 153h3v1h-3zM31 153h3v1h-3zM27 155h1v3h-1zM29 155h3v1h-3zM33 155h3v1h-3zM29 158h1v1h-1zM31 158h2v1h-2zM35 158h4v1h-4zM32 160h1v1h-1zM34 160h1v1h-1zM36 160h1v1h-1zM33 161h1v1h-1zM35 162h1v1h-1zM37 162h1v1h-1zM32 162h1v1h-1zM34 163h1v1h-1zM36 164h1v1h-1zM32 164h1v1h-1zM30 180h7v2h-7zM36 177h1v8h-1zM37 178h1v6h-1zM38 178h1v6h-1zM39 179h1v4h-1zM40 180h1v2h-1zM40 176h3v1h-3zM44 176h3v1h-3zM40 176h1v4h-1zM42 178h1v1h-1zM42 180h1v1h-1zM42 182h1v1h-1zM44 178h1v2h-1zM45 181h1v1h-1zM46 182h1v1h-1zM45 183h1v1h-1zM44 184h1v1h-1zM41 183h1v1h-1zM40 184h1v1h-1zM40 186h1v1h-1zM30 201h7v2h-7zM36 198h1v8h-1zM37 199h1v6h-1zM38 199h1v6h-1zM39 200h1v4h-1zM40 201h1v2h-1zM40 197h3v1h-3zM44 197h3v1h-3zM40 197h1v4h-1zM42 199h1v1h-1zM42 201h1v1h-1zM42 203h1v1h-1zM44 199h1v2h-1zM45 202h1v1h-1zM46 203h1v1h-1zM45 204h1v1h-1zM44 205h1v1h-1zM41 204h1v1h-1zM40 205h1v1h-1zM40 207h1v1h-1zM30 223h7v2h-7zM36 220h1v8h-1zM37 221h1v6h-1zM38 221h1v6h-1zM39 222h1v4h-1zM40 223h1v2h-1zM40 219h3v1h-3zM44 219h3v1h-3zM40 219h1v4h-1zM42 221h1v1h-1zM42 223h1v1h-1zM42 225h1v1h-1zM44 221h1v2h-1zM45 224h1v1h-1zM46 225h1v1h-1zM45 226h1v1h-1zM44 227h1v1h-1zM41 226h1v1h-1zM40 227h1v1h-1zM40 229h1v1h-1zM30 244h7v2h-7zM36 241h1v8h-1zM37 242h1v6h-1zM38 242h1v6h-1zM39 243h1v4h-1zM40 244h1v2h-1zM40 240h3v1h-3zM44 240h3v1h-3zM40 240h1v4h-1zM42 242h1v1h-1zM42 244h1v1h-1zM42 246h1v1h-1zM44 242h1v2h-1zM45 245h1v1h-1zM46 246h1v1h-1zM45 247h1v1h-1zM44 248h1v1h-1zM41 247h1v1h-1zM40 248h1v1h-1zM40 250h1v1h-1zM30 265h7v2h-7zM36 262h1v8h-1zM37 263h1v6h-1zM38 263h1v6h-1zM39 264h1v4h-1zM40 265h1v2h-1zM40 261h3v1h-3zM44 261h3v1h-3zM40 261h1v4h-1zM42 263h1v1h-1zM42 265h1v1h-1zM42 267h1v1h-1zM44 263h1v2h-1zM45 266h1v1h-1zM46 267h1v1h-1zM45 268h1v1h-1zM44 269h1v1h-1zM41 268h1v1h-1zM40 269h1v1h-1zM40 271h1v1h-1zM30 286h7v2h-7zM36 283h1v8h-1zM37 284h1v6h-1zM38 284h1v6h-1zM39 285h1v4h-1zM40 286h1v2h-1zM40 282h3v1h-3zM44 282h3v1h-3zM40 282h1v4h-1zM42 284h1v1h-1zM42 286h1v1h-1zM42 288h1v1h-1zM44 284h1v2h-1zM45 287h1v1h-1zM46 288h1v1h-1zM45 289h1v1h-1zM44 290h1v1h-1zM41 289h1v1h-1zM40 290h1v1h-1zM40 292h1v1h-1zM30 307h7v2h-7zM36 304h1v8h-1zM37 305h1v6h-1zM38 305h1v6h-1zM39 306h1v4h-1zM40 307h1v2h-1zM40 303h3v1h-3zM44 303h3v1h-3zM40 303h1v4h-1zM42 305h1v1h-1zM42 307h1v1h-1zM42 309h1v1h-1zM44 305h1v2h-1zM45 308h1v1h-1zM46 309h1v1h-1zM45 310h1v1h-1zM44 311h1v1h-1zM41 310h1v1h-1zM40 311h1v1h-1zM40 313h1v1h-1zM30 328h7v2h-7zM36 325h1v8h-1zM37 326h1v6h-1zM38 326h1v6h-1zM39 327h1v4h-1zM40 328h1v2h-1zM40 324h3v1h-3zM44 324h3v1h-3zM40 324h1v4h-1zM42 326h1v1h-1zM42 328h1v1h-1zM42 330h1v1h-1zM44 326h1v2h-1zM45 329h1v1h-1zM46 330h1v1h-1zM45 331h1v1h-1zM44 332h1v1h-1zM41 331h1v1h-1zM40 332h1v1h-1zM40 334h1v1h-1zM30 350h7v2h-7zM36 347h1v8h-1zM37 348h1v6h-1zM38 348h1v6h-1zM39 349h1v4h-1zM40 350h1v2h-1zM40 346h3v1h-3zM44 346h3v1h-3zM40 346h1v4h-1zM42 348h1v1h-1zM42 350h1v1h-1zM42 352h1v1h-1zM44 348h1v2h-1zM45 351h1v1h-1zM46 352h1v1h-1zM45 353h1v1h-1zM44 354h1v1h-1zM41 353h1v1h-1zM40 354h1v1h-1zM40 356h1v1h-1zM30 371h7v2h-7zM36 368h1v8h-1zM37 369h1v6h-1zM38 369h1v6h-1zM39 370h1v4h-1zM40 371h1v2h-1zM40 367h3v1h-3zM44 367h3v1h-3zM40 367h1v4h-1zM42 369h1v1h-1zM42 371h1v1h-1zM42 373h1v1h-1zM44 369h1v2h-1zM45 372h1v1h-1zM46 373h1v1h-1zM45 374h1v1h-1zM44 375h1v1h-1zM41 374h1v1h-1zM40 375h1v1h-1zM40 377h1v1h-1zM30 392h7v2h-7zM36 389h1v8h-1zM37 390h1v6h-1zM38 390h1v6h-1zM39 391h1v4h-1zM40 392h1v2h-1zM40 388h3v1h-3zM44 388h3v1h-3zM40 388h1v4h-1zM42 390h1v1h-1zM42 392h1v1h-1zM42 394h1v1h-1zM44 390h1v2h-1zM45 393h1v1h-1zM46 394h1v1h-1zM45 395h1v1h-1zM44 396h1v1h-1zM41 395h1v1h-1zM40 396h1v1h-1zM40 398h1v1h-1zM30 413h7v2h-7zM36 410h1v8h-1zM37 411h1v6h-1zM38 411h1v6h-1zM39 412h1v4h-1zM40 413h1v2h-1zM40 409h3v1h-3zM44 409h3v1h-3zM40 409h1v4h-1zM42 411h1v1h-1zM42 413h1v1h-1zM42 415h1v1h-1zM44 411h1v2h-1zM45 414h1v1h-1zM46 415h1v1h-1zM45 416h1v1h-1zM44 417h1v1h-1zM41 416h1v1h-1zM40 417h1v1h-1zM40 419h1v1h-1zM30 434h7v2h-7zM36 431h1v8h-1zM37 432h1v6h-1zM38 432h1v6h-1zM39 433h1v4h-1zM40 434h1v2h-1zM40 430h3v1h-3zM44 430h3v1h-3zM40 430h1v4h-1zM42 432h1v1h-1zM42 434h1v1h-1zM42 436h1v1h-1zM44 432h1v2h-1zM45 435h1v1h-1zM46 436h1v1h-1zM45 437h1v1h-1zM44 438h1v1h-1zM41 437h1v1h-1zM40 438h1v1h-1zM40 440h1v1h-1zM30 455h7v2h-7zM36 452h1v8h-1zM37 453h1v6h-1zM38 453h1v6h-1zM39 454h1v4h-1zM40 455h1v2h-1zM40 451h3v1h-3zM44 451h3v1h-3zM40 451h1v4h-1zM42 453h1v1h-1zM42 455h1v1h-1zM42 457h1v1h-1zM44 453h1v2h-1zM45 456h1v1h-1zM46 457h1v1h-1zM45 458h1v1h-1zM44 459h1v1h-1zM41 458h1v1h-1zM40 459h1v1h-1zM40 461h1v1h-1zM30 477h7v2h-7zM36 474h1v8h-1zM37 475h1v6h-1zM38 475h1v6h-1zM39 476h1v4h-1zM40 477h1v2h-1zM40 473h3v1h-3zM44 473h3v1h-3zM40 473h1v4h-1zM42 475h1v1h-1zM42 477h1v1h-1zM42 479h1v1h-1zM44 475h1v2h-1zM45 478h1v1h-1zM46 479h1v1h-1zM45 480h1v1h-1zM44 481h1v1h-1zM41 480h1v1h-1zM40 481h1v1h-1zM40 483h1v1h-1zM648 154h2v2h-2zM648 161h2v2h-2zM195 6h2v1h-2zM195 13h2v1h-2zM194 7h1v6h-1zM197 7h1v6h-1zM196 28h1v6h-1zM194 29h2v1h-2zM194 34h5v1h-5zM196 49h1v6h-1zM194 50h2v1h-2zM194 55h5v1h-5zM195 70h2v1h-2zM195 77h2v1h-2zM194 71h1v6h-1zM197 71h1v6h-1zM195 91h2v1h-2zM195 98h2v1h-2zM194 92h1v6h-1zM197 92h1v6h-1zM196 134h1v6h-1zM194 135h2v1h-2zM194 140h5v1h-5zM213 154h2v1h-2zM213 161h2v1h-2zM212 155h1v6h-1zM215 155h1v6h-1zM220 154h2v1h-2zM220 161h2v1h-2zM219 155h1v6h-1zM222 155h1v6h-1zM226 154h2v1h-2zM226 161h2v1h-2zM225 155h1v6h-1zM228 155h1v6h-1zM232 154h2v1h-2zM232 161h2v1h-2zM231 155h1v6h-1zM234 155h1v6h-1zM195 176h2v1h-2zM195 183h2v1h-2zM194 177h1v6h-1zM197 177h1v6h-1zM195 197h2v1h-2zM195 204h2v1h-2zM194 198h1v6h-1zM197 198h1v6h-1zM195 218h2v1h-2zM195 225h2v1h-2zM194 219h1v6h-1zM197 219h1v6h-1zM195 239h2v1h-2zM195 246h2v1h-2zM194 240h1v6h-1zM197 240h1v6h-1zM195 260h2v1h-2zM195 267h2v1h-2zM194 261h1v6h-1zM197 261h1v6h-1zM195 282h2v1h-2zM195 289h2v1h-2zM194 283h1v6h-1zM197 283h1v6h-1zM195 303h2v1h-2zM195 310h2v1h-2zM194 304h1v6h-1zM197 304h1v6h-1zM195 324h2v1h-2zM195 331h2v1h-2zM194 325h1v6h-1zM197 325h1v6h-1zM195 345h2v1h-2zM195 352h2v1h-2zM194 346h1v6h-1zM197 346h1v6h-1zM195 366h2v1h-2zM195 373h2v1h-2zM194 367h1v6h-1zM197 367h1v6h-1zM195 388h2v1h-2zM195 395h2v1h-2zM194 389h1v6h-1zM197 389h1v6h-1zM195 409h2v1h-2zM195 416h2v1h-2zM194 410h1v6h-1zM197 410h1v6h-1zM195 430h2v1h-2zM195 437h2v1h-2zM194 431h1v6h-1zM197 431h1v6h-1zM195 451h2v1h-2zM195 458h2v1h-2zM194 452h1v6h-1zM197 452h1v6h-1zM195 472h2v1h-2zM195 479h2v1h-2zM194 473h1v6h-1zM197 473h1v6h-1zM195 494h2v1h-2zM195 501h2v1h-2zM194 495h1v6h-1zM197 495h1v6h-1zM367 155h2v1h-2zM367 162h2v1h-2zM366 156h1v6h-1zM369 156h1v6h-1zM373 155h2v1h-2zM373 162h2v1h-2zM372 156h1v6h-1zM375 156h1v6h-1zM380 155h2v1h-2zM380 162h2v1h-2zM379 156h1v6h-1zM382 156h1v6h-1zM386 155h2v1h-2zM386 162h2v1h-2zM385 156h1v6h-1zM388 156h1v6h-1zM592 155h2v1h-2zM592 162h2v1h-2zM591 156h1v6h-1zM594 156h1v6h-1zM598 155h2v1h-2zM598 162h2v1h-2zM597 156h1v6h-1zM600 156h1v6h-1zM605 155h2v1h-2zM605 162h2v1h-2zM604 156h1v6h-1zM607 156h1v6h-1zM611 155h2v1h-2zM611 162h2v1h-2zM610 156h1v6h-1zM613 156h1v6h-1zM704 155h2v1h-2zM704 162h2v1h-2zM703 156h1v6h-1zM706 156h1v6h-1zM710 155h2v1h-2zM710 162h2v1h-2zM709 156h1v6h-1zM712 156h1v6h-1zM717 155h2v1h-2zM717 162h2v1h-2zM716 156h1v6h-1zM719 156h1v6h-1zM723 155h2v1h-2zM723 162h2v1h-2zM722 156h1v6h-1zM725 156h1v6h-1zM815 155h2v1h-2zM815 162h2v1h-2zM814 156h1v6h-1zM817 156h1v6h-1zM821 155h2v1h-2zM821 162h2v1h-2zM820 156h1v6h-1zM823 156h1v6h-1zM828 155h2v1h-2zM828 162h2v1h-2zM827 156h1v6h-1zM830 156h1v6h-1zM834 155h2v1h-2zM834 162h2v1h-2zM833 156h1v6h-1zM836 156h1v6h-1z"/>
<defs><filter id="ths" x="0" y="0" width="100%" height="100%" color-interpolation-filters="sRGB"><feComponentTransfer><feFuncA type="discrete" tableValues="0 0 0 0 0 0 0 0 0 1 1 1 1 1 1 1 1 1 1 1"/></feComponentTransfer></filter><filter id="thm" x="0" y="0" width="100%" height="100%" color-interpolation-filters="sRGB"><feComponentTransfer><feFuncA type="discrete" tableValues="0 0 1 1 1"/></feComponentTransfer></filter></defs>
<g fill="#000" filter="url(#ths)"><text x="46.4" y="15.9" class="s">act_err_frm_tx</text><text x="46.4" y="36.9" class="s">clk</text><text x="46.4" y="57.9" class="s">crc_err</text><text x="46.4" y="78.9" class="s">g_rst</text><text x="46.4" y="99.9" class="s">psv_err_frm_tx</text><text x="46.4" y="121.9" class="s">rcvd_crc[14:0]</text><text x="46.4" y="142.9" class="s">rcvd_crc_flg</text><text x="46.4" y="163.9" class="s">rx_crc_frm[14:0]</text><text x="53.0" y="184.9" class="s">rx_crc_frm[14]</text><text x="53.0" y="205.9" class="s">rx_crc_frm[13]</text><text x="53.0" y="227.9" class="s">rx_crc_frm[12]</text><text x="53.0" y="248.9" class="s">rx_crc_frm[11]</text><text x="53.0" y="269.9" class="s">rx_crc_frm[10]</text><text x="53.0" y="290.9" class="s">rx_crc_frm[9]</text><text x="53.0" y="311.9" class="s">rx_crc_frm[8]</text><text x="53.0" y="332.9" class="s">rx_crc_frm[7]</text><text x="53.0" y="354.9" class="s">rx_crc_frm[6]</text><text x="53.0" y="375.9" class="s">rx_crc_frm[5]</text><text x="53.0" y="396.9" class="s">rx_crc_frm[4]</text><text x="53.0" y="417.9" class="s">rx_crc_frm[3]</text><text x="53.0" y="438.9" class="s">rx_crc_frm[2]</text><text x="53.0" y="459.9" class="s">rx_crc_frm[1]</text><text x="53.0" y="481.9" class="s">rx_crc_frm[0]</text><text x="46.4" y="502.9" class="s">rx_success</text></g>
<g fill="#000" filter="url(#thm)"><text transform="scale(1,1.08)" y="111.11" class="m"><tspan x="194.50">&#8217;</tspan><tspan x="200.50">h</tspan><tspan x="212.50">7</tspan><tspan x="219.50">D</tspan><tspan x="225.50">8</tspan><tspan x="231.50">5</tspan></text><text transform="scale(1,1.08)" y="150.00" class="m"><tspan x="194.50">&#8217;</tspan><tspan x="200.50">h</tspan></text><text transform="scale(1,1.08)" y="111.11" class="m"><tspan x="283.50">7</tspan><tspan x="289.50">D</tspan><tspan x="296.50">8</tspan><tspan x="302.50">5</tspan></text><text transform="scale(1,1.08)" y="150.93" class="m"><tspan x="336.50">7</tspan><tspan x="342.50">D</tspan></text><text transform="scale(1,1.08)" y="150.93" class="m"><tspan x="560.50">7</tspan><tspan x="566.50">D</tspan></text><text transform="scale(1,1.08)" y="150.93" class="m"><tspan x="672.50">4</tspan><tspan x="678.50">8</tspan></text><text transform="scale(1,1.08)" y="150.93" class="m"><tspan x="785.50">7</tspan><tspan x="791.50">D</tspan></text></g>
</svg>
</body></html>
